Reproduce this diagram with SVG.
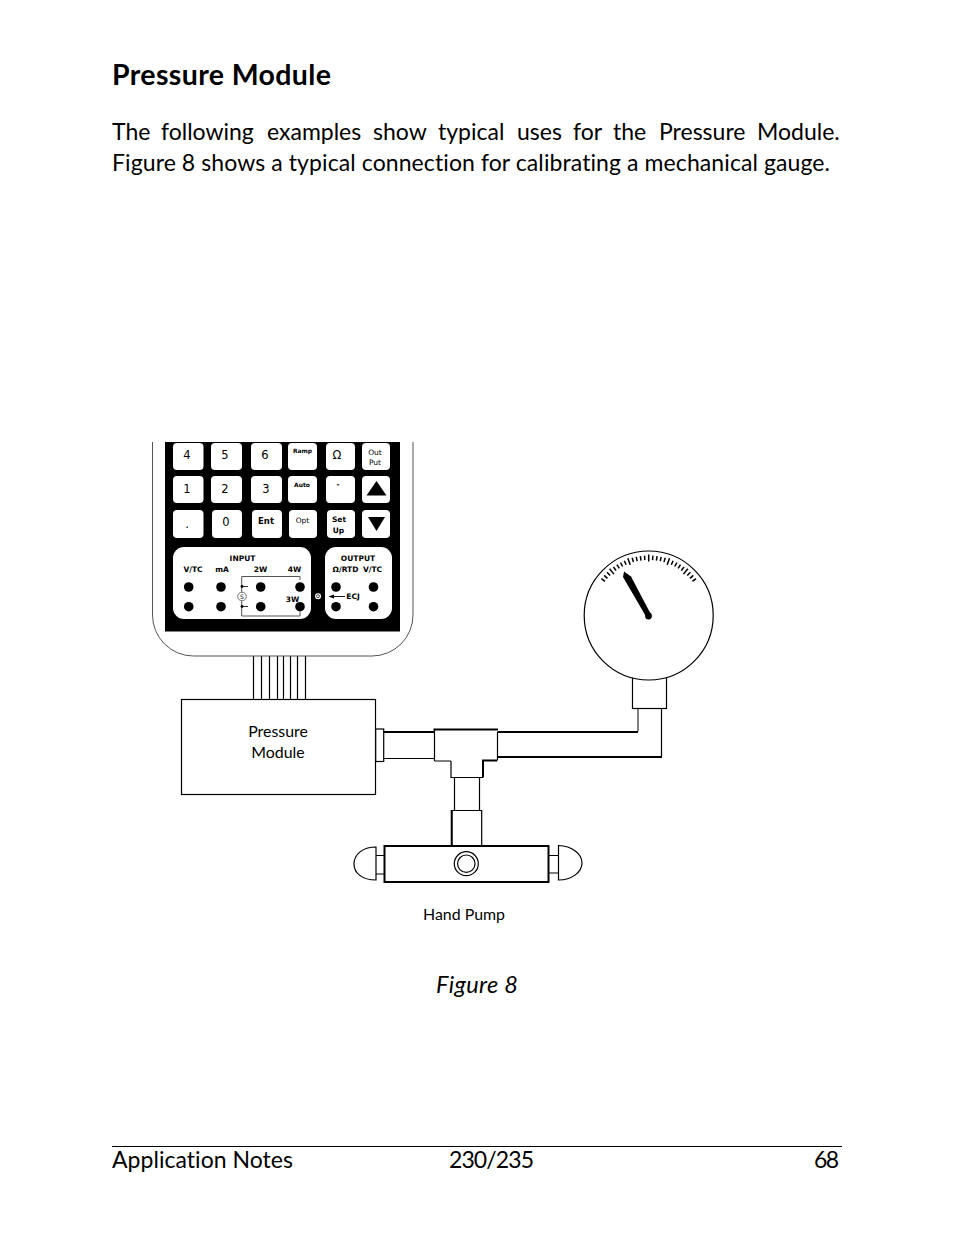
<svg xmlns="http://www.w3.org/2000/svg" xmlns:xlink="http://www.w3.org/1999/xlink" width="954" height="1235" viewBox="0 0 954 1235">
<style>
text{font-family:"Lato","Liberation Sans",sans-serif;fill:#000;font-variant-ligatures:none}
.h{font-size:28.5px;font-weight:700}
.b{font-size:23px}
.f{font-size:23.5px}
.l{font-size:15.9px}
.k{font-family:"DejaVu Sans",sans-serif;text-anchor:middle;font-size:11.5px}
.ks{font-family:"DejaVu Sans",sans-serif;text-anchor:middle;font-size:7.5px}
.kb{font-family:"DejaVu Sans",sans-serif;text-anchor:middle;font-size:7.5px;font-weight:700}
.kt{font-family:"DejaVu Sans",sans-serif;text-anchor:middle;font-size:6px;font-weight:700}
.key{fill:#fff;stroke:none}
.ln{fill:none;stroke:#000;stroke-width:1.2}
.th{fill:none;stroke:#000;stroke-width:2}
.w{fill:#fff;stroke:#000;stroke-width:1.2}
.wt{fill:#fff;stroke:#000;stroke-width:2}
.gy{fill:none;stroke:#555;stroke-width:1}
.tick{stroke:#000;stroke-width:1.5}
</style>
<defs>
<line id="ts" class="tick" x1="648.7" y1="555.5" x2="648.7" y2="560"/>
<line id="tl" class="tick" x1="648.7" y1="554.5" x2="648.7" y2="561.5"/>
<circle id="d" r="4.8" fill="#000"/>
</defs>

<g id="page-text">
<text class="h" x="112" y="85" textLength="219">Pressure Module</text>
<text class="b" y="140"><tspan x="112">The</tspan><tspan x="161">following</tspan><tspan x="267">examples</tspan><tspan x="373">show</tspan><tspan x="438">typical</tspan><tspan x="517">uses</tspan><tspan x="573">for</tspan><tspan x="613">the</tspan><tspan x="659">Pressure</tspan><tspan x="757">Module.</tspan></text>
<text class="b" x="112" y="171" textLength="718">Figure 8 shows a typical connection for calibrating a mechanical gauge.</text>
<text class="f" x="436" y="993" font-style="italic" textLength="82">Figure 8</text>
<text class="b" x="112" y="1168" textLength="181">Application Notes</text>
<text class="b" x="449" y="1168" textLength="85">230/235</text>
<text class="b" x="814" y="1168" textLength="25">68</text>
<line x1="112" y1="1146.5" x2="842" y2="1146.5" stroke="#000" stroke-width="1"/>
</g>

<g id="connectors">
<g class="ln">
<path d="M253.5 656V699M261.5 656V699M269.5 656V699M277.5 656V699M283.5 656V699M290.5 656V699M297.5 656V699M305.5 656V699"/>
<path d="M384 758.5H435"/>
<path d="M638 708V731.5" stroke-width="1"/>
<path d="M661.5 708V757"/>
<path d="M454.5 777V810M479.5 777V810"/>
</g>
<g class="th">
<path d="M384 732H435"/>
<path d="M497 732H638M497 757H662"/>
</g>
</g>

<g id="calibrator">
<path class="gy" d="M152.5 442V615a41 41 0 0 0 41 41H372a41 41 0 0 0 41-41V442"/>
<rect x="165" y="442" width="235" height="189.500" fill="#000"/>
<g id="keys">
<rect class="key" x="173" y="443" width="30.500" height="27" rx="4"/>
<rect class="key" x="211" y="443" width="31" height="27" rx="4"/>
<rect class="key" x="251" y="443" width="31" height="27" rx="4"/>
<rect class="key" x="288" y="443" width="29" height="27" rx="4"/>
<rect class="key" x="326" y="443" width="29" height="27" rx="4"/>
<rect class="key" x="362" y="443" width="28" height="27" rx="4"/>
<rect class="key" x="173" y="476" width="30.500" height="27" rx="4"/>
<rect class="key" x="211" y="476" width="31" height="27" rx="4"/>
<rect class="key" x="251" y="476" width="31" height="27" rx="4"/>
<rect class="key" x="288" y="476" width="29" height="27" rx="4"/>
<rect class="key" x="326" y="476" width="29" height="27" rx="4"/>
<rect class="key" x="362" y="476" width="28" height="27" rx="4"/>
<rect class="key" x="173" y="510" width="30.500" height="28" rx="4"/>
<rect class="key" x="212" y="510" width="30" height="28" rx="4"/>
<rect class="key" x="252" y="510" width="30" height="28" rx="4"/>
<rect class="key" x="289" y="510" width="28" height="28" rx="4"/>
<rect class="key" x="327" y="510" width="28" height="28" rx="4"/>
<rect class="key" x="362" y="510" width="28" height="28" rx="4"/>
<text class="k" x="187" y="458.500">4</text>
<text class="k" x="225" y="458.500">5</text>
<text class="k" x="265" y="458.500">6</text>
<text class="kt" x="302.500" y="453">Ramp</text>
<text class="k" x="337" y="458.500">Ω</text>
<text class="ks" x="375" y="454.500">Out</text>
<text class="ks" x="375" y="465">Put</text>
<text class="k" x="187" y="492.500">1</text>
<text class="k" x="225" y="492.500">2</text>
<text class="k" x="266" y="492.500">3</text>
<text class="kt" x="302" y="486.500">Auto</text>
<text class="kb" x="338" y="487">-</text>
<path d="M376.500 481L386.500 495.500H366.500Z" fill="#000"/>
<text class="k" x="187" y="528">.</text>
<text class="k" x="226" y="526">0</text>
<text class="kb" x="266" y="524" style="font-size:8.500px">Ent</text>
<text class="ks" x="302.500" y="523">Opt</text>
<text class="kb" x="339" y="522">Set</text>
<text class="kb" x="338.500" y="533">Up</text>
<path d="M368 517H385L376.500 531Z" fill="#000"/>
</g>
<g id="terminals">
<rect class="key" x="173" y="547" width="138" height="72" rx="11"/>
<rect class="key" x="325" y="547" width="67" height="72" rx="11"/>
<text class="kb" x="242.500" y="561">INPUT</text>
<text class="kb" x="358" y="561">OUTPUT</text>
<text class="kb" x="193" y="571.500">V/TC</text>
<text class="kb" x="222" y="571.500">mA</text>
<text class="kb" x="260.500" y="571.500">2W</text>
<text class="kb" x="294.500" y="571.500">4W</text>
<text class="kb" x="345.500" y="571.500">Ω/RTD</text>
<text class="kb" x="372.500" y="571.500">V/TC</text>
<use xlink:href="#d" href="#d" x="188.700" y="587"/>
<use xlink:href="#d" href="#d" x="221" y="587"/>
<use xlink:href="#d" href="#d" x="260.700" y="587"/>
<use xlink:href="#d" href="#d" x="300" y="587"/>
<use xlink:href="#d" href="#d" x="336" y="587"/>
<use xlink:href="#d" href="#d" x="373.500" y="587"/>
<use xlink:href="#d" href="#d" x="188.700" y="606.700"/>
<use xlink:href="#d" href="#d" x="221" y="606.700"/>
<use xlink:href="#d" href="#d" x="260.700" y="606.700"/>
<use xlink:href="#d" href="#d" x="300" y="606.700"/>
<use xlink:href="#d" href="#d" x="336" y="606.700"/>
<use xlink:href="#d" href="#d" x="373.500" y="606.700"/>
<path class="gy" d="M300 580V576.500H241.700V616H300V612"/>
<path d="M242 586.500H248M242 606.500H248" stroke="#000" stroke-width="0.800"/>
<circle cx="242" cy="586.500" r="1.400" fill="#000"/>
<circle cx="242" cy="606.500" r="1.400" fill="#000"/>
<circle cx="242" cy="596.500" r="4.300" fill="#fff" stroke="#555" stroke-width="0.800"/>
<text class="kt" x="242" y="599" style="font-weight:400">S</text>
<text class="kb" x="292.500" y="602">3W</text>
<circle cx="318" cy="596.200" r="3" fill="#fff"/>
<circle cx="318" cy="596.200" r="1.500" fill="none" stroke="#000" stroke-width="0.700"/>
<path d="M333 596.500H345" stroke="#000" stroke-width="0.900"/>
<path d="M328.500 596.500L334 594.500V598.500Z" fill="#000"/>
<text class="kb" x="353" y="599">ECJ</text>
</g>
</g>

<g id="pressure-module">
<rect class="ln" x="181.500" y="699.500" width="194" height="95"/>
<text class="l" x="278" y="737" text-anchor="middle">Pressure</text>
<text class="l" x="278" y="758" text-anchor="middle">Module</text>
<rect class="w" x="375.700" y="729" width="8" height="32.500"/>
</g>

<g id="tee-fitting">
<path d="M434.500 729.500H497.500V760.500H483V777H451V761H434.500Z" fill="#fff" stroke="none"/>
<path class="ln" d="M434.500 761V729M451 761H434.500M451 761V777.500H483M497.500 732V760.500"/>
<path class="th" d="M433.500 729.500H498M483 777.500V760.500H497"/>
</g>

<g id="gauge">
<rect class="ln" x="632.500" y="675" width="34" height="33.500"/>
<circle class="w" cx="648.700" cy="615.500" r="64.500"/>
<use xlink:href="#ts" href="#ts" transform="rotate(-52 648.700 615.500)"/>
<use xlink:href="#ts" href="#ts" transform="rotate(-48 648.700 615.500)"/>
<use xlink:href="#ts" href="#ts" transform="rotate(-44 648.700 615.500)"/>
<use xlink:href="#tl" href="#tl" transform="rotate(-40 648.700 615.500)"/>
<use xlink:href="#ts" href="#ts" transform="rotate(-36 648.700 615.500)"/>
<use xlink:href="#ts" href="#ts" transform="rotate(-32 648.700 615.500)"/>
<use xlink:href="#ts" href="#ts" transform="rotate(-28 648.700 615.500)"/>
<use xlink:href="#ts" href="#ts" transform="rotate(-24 648.700 615.500)"/>
<use xlink:href="#tl" href="#tl" transform="rotate(-20 648.700 615.500)"/>
<use xlink:href="#ts" href="#ts" transform="rotate(-16 648.700 615.500)"/>
<use xlink:href="#ts" href="#ts" transform="rotate(-12 648.700 615.500)"/>
<use xlink:href="#ts" href="#ts" transform="rotate(-8 648.700 615.500)"/>
<use xlink:href="#ts" href="#ts" transform="rotate(-4 648.700 615.500)"/>
<use xlink:href="#tl" href="#tl" transform="rotate(0 648.700 615.500)"/>
<use xlink:href="#ts" href="#ts" transform="rotate(4 648.700 615.500)"/>
<use xlink:href="#ts" href="#ts" transform="rotate(8 648.700 615.500)"/>
<use xlink:href="#ts" href="#ts" transform="rotate(12 648.700 615.500)"/>
<use xlink:href="#ts" href="#ts" transform="rotate(16 648.700 615.500)"/>
<use xlink:href="#tl" href="#tl" transform="rotate(20 648.700 615.500)"/>
<use xlink:href="#ts" href="#ts" transform="rotate(24 648.700 615.500)"/>
<use xlink:href="#ts" href="#ts" transform="rotate(28 648.700 615.500)"/>
<use xlink:href="#ts" href="#ts" transform="rotate(32 648.700 615.500)"/>
<use xlink:href="#ts" href="#ts" transform="rotate(36 648.700 615.500)"/>
<use xlink:href="#tl" href="#tl" transform="rotate(40 648.700 615.500)"/>
<use xlink:href="#ts" href="#ts" transform="rotate(44 648.700 615.500)"/>
<use xlink:href="#ts" href="#ts" transform="rotate(48 648.700 615.500)"/>
<use xlink:href="#ts" href="#ts" transform="rotate(52 648.700 615.500)"/>
<path d="M624 571.500L631 576.500L651 614.500L646 616.500L623 577Z" fill="#000"/>
<circle cx="648.500" cy="616" r="3.400" fill="#000"/>
</g>

<g id="hand-pump">
<path class="ln" d="M451.700 845.500V810.500H481.700V845.500"/>
<path class="th" d="M451.700 845.500V810"/>
<path class="ln" d="M376 855.500H384M376 874H384M548 855.500H558.500M548 873H558.500"/>
<path class="ln" d="M376 847C362 847 354 855 354 864C354 873 362 880 376 880V847Z" stroke-width="1"/>
<path class="ln" d="M558.500 845.500C572 846 582 854 582 863C582 872 572 880 558.500 880V845.500Z" stroke-width="1"/>
<rect class="wt" x="384.500" y="846" width="164" height="36"/>
<circle cx="466.300" cy="863.700" r="12" fill="none" stroke="#000" stroke-width="1.200"/>
<circle cx="466.300" cy="863.700" r="8.700" fill="none" stroke="#000" stroke-width="1.200"/>
<text class="l" x="464" y="920" text-anchor="middle">Hand Pump</text>
</g>
</svg>
